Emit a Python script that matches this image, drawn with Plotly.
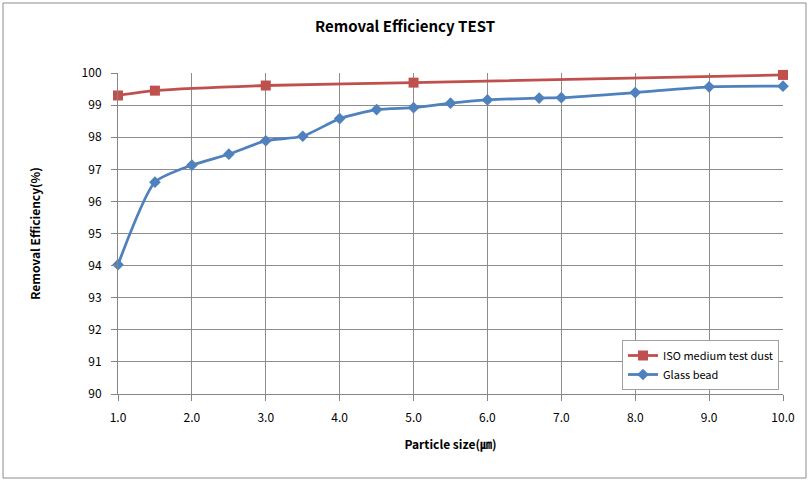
import plotly.graph_objects as go

iso_x = [1.0, 1.5, 3.0, 5.0, 10.0]
iso_y = [99.3, 99.45, 99.61, 99.7, 99.94]

glass_x = [1.0, 1.5, 2.0, 2.5, 3.0, 3.5, 4.0, 4.5, 5.0, 5.5, 6.0, 6.7, 7.0, 8.0, 9.0, 10.0]
glass_y = [94.03, 96.6, 97.13, 97.47, 97.89, 98.03, 98.58, 98.86, 98.92, 99.06, 99.16, 99.22, 99.23, 99.39, 99.57, 99.59]

x_ticks = [1, 2, 3, 4, 5, 6, 7, 8, 9, 10]
x_labels = ["1.0", "2.0", "3.0", "4.0", "5.0", "6.0", "7.0", "8.0", "9.0", "10.0"]
y_ticks = list(range(90, 101))

FONT = "Noto Sans CJK KR, Malgun Gothic, sans-serif"

fig = go.Figure()
fig.add_trace(go.Scatter(
    x=iso_x, y=iso_y, name="ISO medium test dust", mode="lines+markers",
    line=dict(color="#C0504D", width=2.8, shape="spline", smoothing=0.6),
    marker=dict(symbol="square", size=10, color="#C0504D"),
    cliponaxis=False,
))
fig.add_trace(go.Scatter(
    x=glass_x, y=glass_y, name="Glass bead", mode="lines+markers",
    line=dict(color="#4F81BD", width=2.8, shape="spline", smoothing=0.6),
    marker=dict(symbol="diamond", size=9, color="#4F81BD"),
    cliponaxis=False,
))

L, R, T, B = 118, 27, 73, 88
W, H = 810, 482
pw, ph = W - L - R, H - T - B

fig.update_layout(
    width=W, height=H,
    margin=dict(l=L, r=R, t=T, b=B),
    paper_bgcolor="white", plot_bgcolor="white",
    font=dict(family=FONT, size=12, color="#000000"),
    title=dict(text="<b>Removal Efficiency TEST</b>", x=0.5, xanchor="center",
               y=1 - 27 / H, yanchor="middle", font=dict(size=15, family=FONT)),
    xaxis=dict(
        range=[1, 10], tickvals=x_ticks, ticktext=x_labels,
        showgrid=True, gridcolor="#8C8C8C", gridwidth=1,
        showline=True, linecolor="#868686", linewidth=1,
        ticks="outside", ticklen=6, tickcolor="#868686",
        ticklabelstandoff=7,
        zeroline=False,
        title=dict(text="<b>Particle size(㎛)</b>", font=dict(size=12, family=FONT), standoff=16),
    ),
    yaxis=dict(
        range=[90, 100], tickvals=y_ticks,
        showgrid=True, gridcolor="#8C8C8C", gridwidth=1,
        showline=True, linecolor="#868686", linewidth=1,
        ticks="outside", ticklen=6, tickcolor="#868686",
        ticklabelstandoff=7,
        zeroline=False,
        title=dict(text="<b>Removal Efficiency(%)</b>", font=dict(size=12, family=FONT), standoff=38),
    ),
    legend=dict(
        x=(622 - L) / pw, y=(H - B - 340) / ph, xanchor="left", yanchor="top",
        bgcolor="white", bordercolor="#A0A0A0", borderwidth=1,
        font=dict(size=11, family=FONT),
    ),
    showlegend=True,
    shapes=[dict(
        type="rect", xref="paper", yref="paper",
        x0=(3 - L) / pw, x1=(806 - L) / pw,
        y0=(H - B - 478) / ph, y1=(H - B - 3) / ph,
        line=dict(color="#8C8C8C", width=1), fillcolor="rgba(0,0,0,0)", layer="below",
    )],
)

fig.write_html("out.html")
